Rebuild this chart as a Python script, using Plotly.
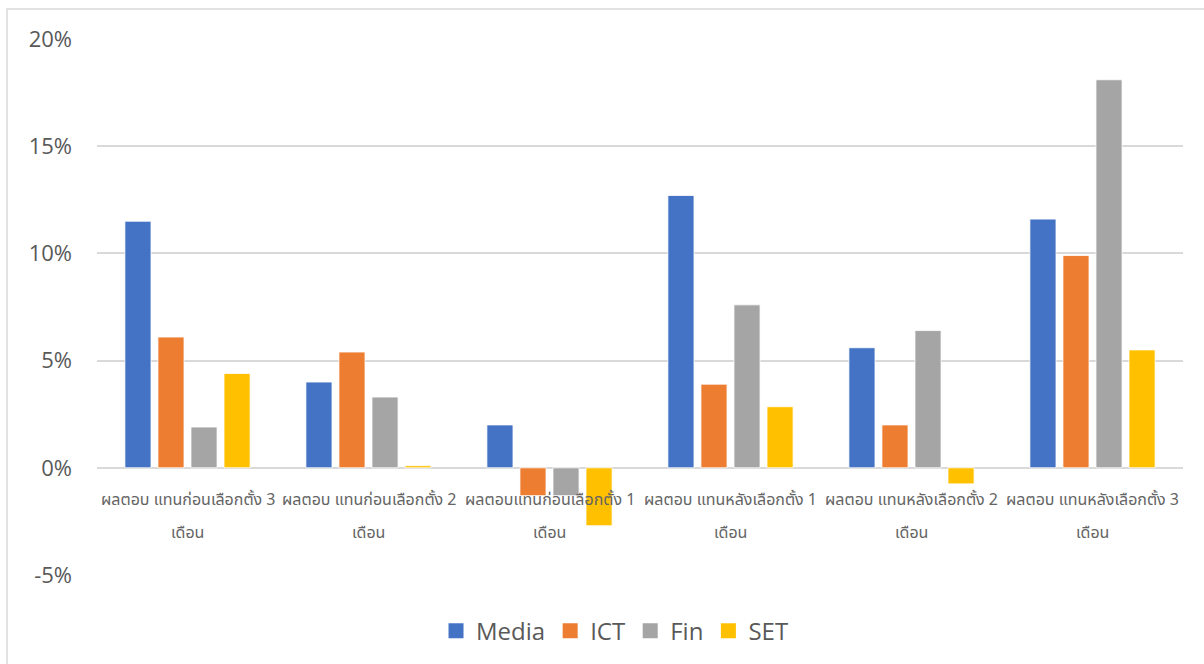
import plotly.graph_objects as go

categories = [
    "ผลตอบ แทนก่อนเลือกตั้ง 3|เดือน",
    "ผลตอบ แทนก่อนเลือกตั้ง 2|เดือน",
    "ผลตอบแทนก่อนเลือกตั้ง 1|เดือน",
    "ผลตอบ แทนหลังเลือกตั้ง 1|เดือน",
    "ผลตอบ แทนหลังเลือกตั้ง 2|เดือน",
    "ผลตอบ แทนหลังเลือกตั้ง 3|เดือน",
]
media = [11.5, 4.0, 2.0, 12.7, 5.6, 11.6]
ict = [6.1, 5.4, -1.3, 3.9, 2.0, 9.9]
fin = [1.9, 3.3, -1.3, 7.6, 6.4, 18.1]
set_ = [4.4, 0.1, -2.7, 2.85, -0.75, 5.5]

series_names = ["Media", "ICT", "Fin", "SET"]
series_colors = ["#4472C4", "#ED7D31", "#A5A5A5", "#FFC000"]
tick_vals = [-5, 0, 5, 10, 15, 20]
tick_text = ["-5%", "0%", "5%", "10%", "15%", "20%"]

TEXT = "#595959"
THAI_FONT = "Noto Sans Thai, Leelawadee UI, Tahoma, DejaVu Sans, sans-serif"

fig = go.Figure()
for name, vals, col in zip(series_names, [media, ict, fin, set_], series_colors):
    fig.add_trace(go.Bar(
        x=categories, y=vals, name=name, showlegend=False,
        marker=dict(color=col, line=dict(color="white", width=0.8)),
    ))
# legend entries with larger square symbols
for name, col in zip(series_names, series_colors):
    fig.add_trace(go.Scatter(
        x=[categories[0]], y=[None], name=name, mode="markers",
        marker=dict(symbol="square", size=15, color=col),
    ))

annotations = []
for c in categories:
    l1, l2 = c.split("|")
    annotations.append(dict(x=c, y=0, xref="x", yref="y", text=l1, showarrow=False,
                            yanchor="middle", yshift=-32,
                            font=dict(size=16, color="#646464", family=THAI_FONT)))
    annotations.append(dict(x=c, y=0, xref="x", yref="y", text=l2, showarrow=False,
                            yanchor="middle", yshift=-65,
                            font=dict(size=16, color="#646464", family=THAI_FONT)))

fig.update_layout(
    width=1204, height=664,
    margin=dict(l=97, r=21, t=39, b=89, autoexpand=False),
    paper_bgcolor="white", plot_bgcolor="white",
    barmode="group", bargap=0.27, bargroupgap=0.21,
    font=dict(family="Open Sans, sans-serif", color=TEXT),
    showlegend=True,
    legend=dict(orientation="h", x=0.477, xanchor="center", y=-0.063, yanchor="top",
                font=dict(size=24, color=TEXT), itemsizing="trace",
                itemwidth=30, tracegroupgap=0),
    annotations=annotations,
    shapes=[dict(type="rect", xref="paper", yref="paper",
                 x0=-0.0829, x1=1.1, y0=-0.3, y1=1.056,
                 line=dict(color="#d9d9d9", width=1.5), layer="below")],
)
fig.update_xaxes(showticklabels=False, showgrid=False, showline=False, zeroline=False,
                 ticks="")
fig.update_yaxes(range=[-5, 20], tickvals=tick_vals, ticktext=tick_text,
                 showgrid=True, gridcolor="#d9d9d9", gridwidth=1.5,
                 zeroline=True, zerolinecolor="#d9d9d9", zerolinewidth=2,
                 showline=False, ticks="", ticklabelstandoff=24,
                 tickfont=dict(size=22, color=TEXT))

fig.write_html("out.html")
